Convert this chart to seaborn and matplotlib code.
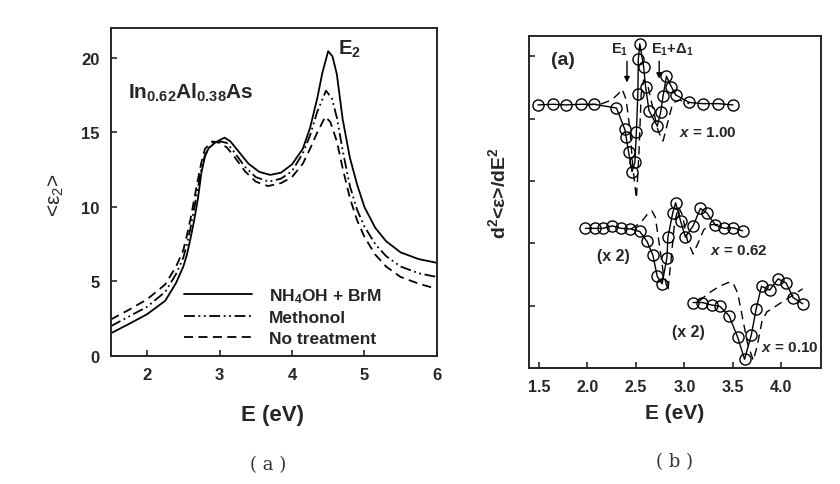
import matplotlib
matplotlib.use("Agg")
import matplotlib.pyplot as plt
import seaborn as sns
import pandas as pd

# ---------------- data: panel (a) ----------------
E_brm = [1.5, 1.75, 2.0, 2.25, 2.4, 2.5, 2.55, 2.6, 2.65, 2.7, 2.75, 2.8, 2.85, 2.95, 3.07, 3.15,
         3.25, 3.4, 3.55, 3.7, 3.85, 4.0, 4.15, 4.25, 4.35, 4.42, 4.5, 4.56, 4.62, 4.7, 4.8,
         4.9, 5.0, 5.15, 5.3, 5.5, 5.75, 6.0]
eps_brm = [1.52, 2.15, 2.8, 3.7, 4.9, 6.0, 6.8, 7.9, 9.1, 10.5, 12.3, 13.4, 13.95, 14.35, 14.65,
           14.4, 13.8, 12.9, 12.35, 12.15, 12.3, 12.85, 13.9, 15.3, 17.3, 19.0, 20.45, 20.1,
           18.9, 15.9, 13.3, 11.5, 10.0, 8.6, 7.7, 6.95, 6.5, 6.25]

E_meth = [1.5, 1.75, 2.0, 2.25, 2.4, 2.5, 2.55, 2.6, 2.65, 2.7, 2.75, 2.8, 2.9, 3.0, 3.1, 3.2,
          3.35, 3.5, 3.68, 3.85, 4.0, 4.15, 4.25, 4.35, 4.47, 4.55, 4.62, 4.7, 4.8, 4.9, 5.0,
          5.15, 5.3, 5.5, 5.75, 6.0]
eps_meth = [2.0, 2.65, 3.3, 4.3, 5.5, 6.6, 7.5, 8.6, 9.9, 11.2, 12.6, 13.5, 14.3, 14.4, 14.3,
            13.7, 12.7, 12.0, 11.7, 11.9, 12.4, 13.6, 14.8, 16.4, 17.8, 17.3, 16.0, 13.8, 11.4,
            9.8, 8.7, 7.5, 6.7, 6.0, 5.55, 5.3]

E_none = [1.5, 1.75, 2.0, 2.25, 2.4, 2.5, 2.55, 2.6, 2.65, 2.7, 2.75, 2.8, 2.9, 3.0, 3.1, 3.2,
          3.35, 3.5, 3.67, 3.85, 4.0, 4.15, 4.25, 4.35, 4.46, 4.53, 4.62, 4.7, 4.8, 4.9, 5.0,
          5.15, 5.3, 5.5, 5.75, 6.0]
eps_none = [2.45, 3.1, 3.8, 4.8, 6.0, 7.1, 8.1, 9.2, 10.5, 11.8, 13.0, 13.9, 14.4, 14.3, 14.0,
            13.4, 12.4, 11.7, 11.4, 11.6, 12.0, 12.9, 13.9, 15.0, 16.05, 15.7, 14.4, 12.6,
            10.6, 9.1, 8.0, 6.8, 6.0, 5.3, 4.85, 4.5]

labels_a = ["NH$_4$OH + BrM", "Methonol", "No treatment"]
xticks_a = [2, 3, 4, 5, 6]
yticks_a = [0, 5, 10, 15, 20]

# ---------------- data: panel (b) ----------------
E_x100 = [1.49, 1.645, 1.78, 1.93, 2.07, 2.30, 2.385, 2.40, 2.425, 2.46, 2.49, 2.505, 2.52,
          2.525, 2.54, 2.58, 2.60, 2.635, 2.72, 2.755, 2.78, 2.815, 2.866, 2.91, 3.05, 3.19,
          3.35, 3.50]
d_x100 = [4.22, 4.23, 4.22, 4.23, 4.23, 4.17, 3.83, 3.70, 3.46, 3.15, 3.30, 3.79, 4.39, 4.95,
          5.20, 4.83, 4.51, 4.13, 3.88, 4.10, 4.36, 4.68, 4.51, 4.38, 4.26, 4.24, 4.24, 4.22]
Ed_x100 = [2.00, 2.15, 2.25, 2.32, 2.36, 2.40, 2.44, 2.47, 2.505, 2.53, 2.555, 2.58, 2.62,
           2.67, 2.73, 2.78, 2.83, 2.88, 2.95, 3.05]
dd_x100 = [4.22, 4.24, 4.30, 4.40, 4.47, 4.30, 3.80, 3.20, 2.72, 3.40, 4.40, 4.62, 4.55, 4.20,
           3.80, 3.64, 3.95, 4.25, 4.30, 4.24]

E_x062 = [1.98, 2.075, 2.16, 2.257, 2.35, 2.443, 2.54, 2.615, 2.675, 2.72, 2.77, 2.82, 2.83,
          2.88, 2.91, 2.96, 3.01, 3.09, 3.165, 3.23, 3.32, 3.41, 3.50, 3.60]
d_x062 = [2.24, 2.24, 2.24, 2.28, 2.24, 2.23, 2.19, 2.03, 1.81, 1.47, 1.35, 1.77, 2.10, 2.49,
          2.65, 2.36, 2.10, 2.28, 2.56, 2.49, 2.29, 2.24, 2.25, 2.20]
Ed_x062 = [2.45, 2.55, 2.62, 2.665, 2.70, 2.74, 2.78, 2.83, 2.86, 2.90, 2.94, 2.98, 3.03,
           3.09, 3.14, 3.20, 3.28, 3.35]
dd_x062 = [2.23, 2.33, 2.47, 2.52, 2.42, 2.00, 1.55, 1.24, 1.70, 2.35, 2.58, 2.45, 2.05,
           1.83, 2.00, 2.22, 2.30, 2.30]

E_x010 = [3.09, 3.186, 3.28, 3.365, 3.46, 3.55, 3.62, 3.69, 3.74, 3.795, 3.88, 3.966, 4.05,
          4.12, 4.22]
d_x010 = [1.05, 1.05, 1.01, 0.99, 0.84, 0.49, 0.14, 0.53, 0.95, 1.31, 1.25, 1.43, 1.36, 1.13,
          1.03]
Ed_x010 = [3.15, 3.25, 3.35, 3.45, 3.50, 3.55, 3.60, 3.65, 3.71, 3.75, 3.80, 3.85, 3.95, 4.05,
           4.15, 4.22]
dd_x010 = [1.07, 1.20, 1.30, 1.37, 1.37, 1.20, 0.80, 0.40, 0.12, 0.35, 0.75, 0.90, 1.00, 1.10,
           1.20, 1.27]

xticks_b = [1.5, 2.0, 2.5, 3.0, 3.5, 4.0]
yticks_b = [1, 2, 3, 4, 5]

# ---------------- style ----------------
sns.set_style("ticks")
plt.rcParams["font.family"] = ["Liberation Sans", "DejaVu Sans"]
plt.rcParams["font.weight"] = "bold"
plt.rcParams["mathtext.fontset"] = "custom"
plt.rcParams["mathtext.rm"] = "Liberation Sans:bold"
plt.rcParams["mathtext.bf"] = "Liberation Sans:bold"
plt.rcParams["mathtext.it"] = "Liberation Sans:italic:bold"
plt.rcParams["mathtext.bfit"] = "Liberation Sans:italic:bold"
plt.rcParams["mathtext.default"] = "regular"

fig = plt.figure(figsize=(8.4, 4.85), dpi=100)
axA = fig.add_axes([0.132, 0.264, 0.388, 0.676])
axB = fig.add_axes([0.630, 0.2392, 0.347, 0.6838])

# ---------------- panel (a) ----------------
styles = ["-", (0, (6, 2, 1, 2, 1, 2)), (0, (5, 3))]
for E, eps, lab, ls in zip([E_brm, E_meth, E_none], [eps_brm, eps_meth, eps_none], labels_a, styles):
    df = pd.DataFrame({"E": E, "eps": eps})
    sns.lineplot(data=df, x="E", y="eps", ax=axA, color="black", lw=1.3, linestyle=ls,
                 sort=False, estimator=None, label=lab)

axA.set_xlim(1.5, 6.0)
axA.set_ylim(0, 22)
axA.set_xticks(xticks_a)
axA.set_yticks(yticks_a)
axA.tick_params(direction="in", length=4, width=1.2, labelsize=12, top=False, right=False)
axA.tick_params(axis="x", pad=8)
axA.tick_params(axis="y", pad=8)
for s in axA.spines.values():
    s.set_linewidth(1.4)
axA.set_xlabel("E (eV)", fontsize=16, fontweight="bold")
axA.xaxis.set_label_coords(0.497, -0.146)
axA.set_ylabel("<$\\mathregular{ε_2}$>", fontsize=15, fontweight="normal", va="center",
               math_fontfamily="dejavusans")
axA.yaxis.set_label_coords(-0.166, 0.494)
axA.text(1.74, 17.33, "In$_{0.62}$Al$_{0.38}$As", fontsize=15, fontweight="bold",
         ha="left", va="baseline")
axA.text(4.63, 20.3, "E$_2$", fontsize=14.5, fontweight="bold", ha="left", va="baseline")
leg = axA.legend(loc="center left", bbox_to_anchor=(0.225, 0.122), frameon=False,
                 fontsize=12.5, handlelength=3.9, handletextpad=1.0, labelspacing=0.3,
                 borderpad=0, borderaxespad=0)
for t in leg.get_texts():
    t.set_fontweight("bold")

# ---------------- panel (b) ----------------
for E, d in zip([E_x100, E_x062, E_x010], [d_x100, d_x062, d_x010]):
    df = pd.DataFrame({"E": E, "d": d})
    sns.lineplot(data=df, x="E", y="d", ax=axB, color="black", lw=1.0, sort=False,
                 estimator=None, marker="o", markersize=8, markerfacecolor="none",
                 markeredgecolor="black", markeredgewidth=1.0)
for E, d in zip([Ed_x100, Ed_x062, Ed_x010], [dd_x100, dd_x062, dd_x010]):
    df = pd.DataFrame({"E": E, "d": d})
    sns.lineplot(data=df, x="E", y="d", ax=axB, color="black", lw=1.0, sort=False,
                 estimator=None, linestyle=(0, (6, 4)))

axB.set_xlim(1.4, 4.405)
axB.set_ylim(0, 5.32)
axB.set_xticks(xticks_b)
axB.set_xticklabels([f"{v:.1f}" for v in xticks_b])
axB.set_yticks(yticks_b)
axB.set_yticklabels([])
axB.tick_params(direction="in", length=4, width=1.2, labelsize=11.5, top=False, right=False)
axB.tick_params(axis="x", pad=8)
for s in axB.spines.values():
    s.set_linewidth(1.4)
axB.set_xlabel("E (eV)", fontsize=15, fontweight="bold")
axB.xaxis.set_label_coords(0.4995, -0.1055)
axB.set_ylabel("d$^2$<ε>/dE$^2$", fontsize=14, fontweight="bold", va="center")
axB.yaxis.set_label_coords(-0.107, 0.53)

axB.text(1.62, 4.95, "(a)", fontsize=14, fontweight="bold", ha="left", va="center")
axB.text(2.33, 5.12, "E$_1$", fontsize=10.5, fontweight="bold", ha="center", va="center")
axB.text(2.88, 5.12, "E$_1$+Δ$_1$", fontsize=10.5, fontweight="bold", ha="center", va="center")
axB.annotate("", xy=(2.408, 4.58), xytext=(2.408, 4.92),
             arrowprops=dict(arrowstyle="-|>", color="black", lw=1.0, mutation_scale=8,
                             shrinkA=0, shrinkB=0))
axB.annotate("", xy=(2.74, 4.64), xytext=(2.74, 4.92),
             arrowprops=dict(arrowstyle="-|>", color="black", lw=1.0, mutation_scale=8,
                             shrinkA=0, shrinkB=0))
axB.text(3.24, 3.79, "$\\mathbfit{x}$ = 1.00", fontsize=11, fontweight="bold",
         ha="center", va="center")
axB.text(2.27, 1.80, "(x 2)", fontsize=11.5, fontweight="bold", ha="center", va="center")
axB.text(3.56, 1.90, "$\\mathbfit{x}$ = 0.62", fontsize=11, fontweight="bold",
         ha="center", va="center")
axB.text(3.045, 0.59, "(x 2)", fontsize=11.5, fontweight="bold", ha="center", va="center")
axB.text(4.085, 0.33, "$\\mathbfit{x}$ = 0.10", fontsize=11, fontweight="bold",
         ha="center", va="center")

# ---------------- panel captions ----------------
fig.text(268 / 840, 1 - 465 / 485, "( a )", fontsize=13, family="DejaVu Serif",
         fontweight="normal", color="#333333", ha="center", va="center")
fig.text(675 / 840, 1 - 462 / 485, "( b )", fontsize=13, family="DejaVu Serif",
         fontweight="normal", color="#333333", ha="center", va="center")

fig.savefig("out.png", dpi=100)
